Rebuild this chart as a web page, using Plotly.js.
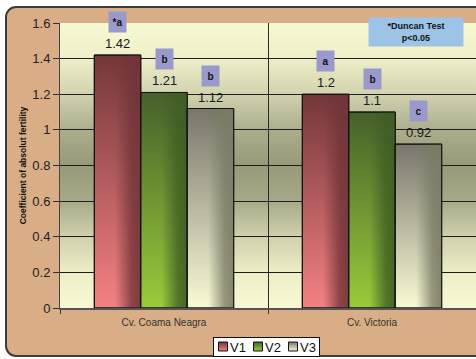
<!DOCTYPE html>
<html>
<head>
<meta charset="utf-8">
<script src="https://cdn.plot.ly/plotly-3.0.1.min.js"></script>
<style>
  html, body { margin: 0; padding: 0; background: #ffffff; width: 476px; height: 359px; overflow: hidden; }
  #frame { position: absolute; left: 5px; top: 6px; width: 490px; height: 351px; background: #D9AE86;
           border: 2px solid #3c3c3c; border-radius: 11px; box-sizing: border-box; }
  #plotbg { position: absolute; left: 60px; top: 23px; width: 416px; height: 285px;
            background: linear-gradient(to bottom, #F8F8D2 0%, #EFEFC9 12%, #D2D2AF 25%, #AAAC8C 38%, #979979 50%,
            #A6A887 62%, #D0D0AC 75%, #EEEEC8 88%, #F8F8D2 100%); }
  #chart { position: absolute; left: 0; top: 0; width: 476px; height: 359px; }
</style>
</head>
<body>
<div id="frame"></div>
<div id="plotbg"></div>
<div id="chart"></div>
<script>
// ---- data ----
const categories = ["Cv. Coama Neagra", "Cv. Victoria"];
const seriesNames = ["V1", "V2", "V3"];
const v1 = [1.42, 1.2];
const v2 = [1.21, 1.1];
const v3 = [1.12, 0.92];
const letters1 = ["*a", "a"];
const letters2 = ["b", "b"];
const letters3 = ["b", "c"];
const yTitle = "Coefficient of absolut fertility";
const noteText = "*Duncan Test<br>p&lt;0.05";

const seriesValues = [v1, v2, v3];
const seriesLetters = [letters1, letters2, letters3];
const baseColors = ["#B05A5E", "#6A9232", "#B8B89C"];
const gradTop = ["#733739", "#45602A", "#76776A"];
const gradBottom = ["#F48183", "#9ACB3B", "#FAFAD6"];
const shadeCol = ["rgba(112,52,56,0.9)", "rgba(62,92,36,0.9)", "rgba(122,122,100,0.9)"];

const FONT = "Arial, 'Liberation Sans', sans-serif";
const bargap = 0.33;
const barW = (1 - bargap) / 3;

const traces = seriesNames.map((n, i) => ({
  type: "bar",
  name: n,
  x: categories,
  y: seriesValues[i],
  marker: { color: baseColors[i], line: { color: "#111111", width: 1 } },
  hoverinfo: "skip"
}));

const annotations = [];
seriesValues.forEach((vals, i) => {
  vals.forEach((v, c) => {
    const xpos = c + (i - 1) * barW;
    annotations.push({
      x: xpos, y: v, xref: "x", yref: "y", text: String(v), showarrow: false,
      yanchor: "middle", yshift: 11.5, font: { family: FONT, size: 13, color: "#1a1a1a" }
    });
    annotations.push({
      x: xpos, y: v, xref: "x", yref: "y", text: seriesLetters[i][c], showarrow: false,
      yanchor: "middle", yshift: 33, bgcolor: "#9999CC", width: 15, height: 18, borderpad: 1,
      font: { family: FONT, size: 10, color: "#111111", weight: "bold" }
    });
  });
});
annotations.push({
  xref: "paper", yref: "paper", x: 0.8546, y: 0.9667, xanchor: "center", yanchor: "middle",
  text: noteText, showarrow: false, bgcolor: "#9DC3E6", width: 92, height: 26, borderpad: 1,
  font: { family: FONT, size: 9, color: "#111111", weight: "bold" }
});

const layout = {
  width: 476, height: 359,
  margin: { l: 60, r: 0, t: 23, b: 51, autoexpand: false },
  paper_bgcolor: "rgba(0,0,0,0)",
  plot_bgcolor: "rgba(0,0,0,0)",
  barmode: "group",
  bargap: bargap,
  bargroupgap: 0,
  font: { family: FONT, color: "#222222" },
  showlegend: true,
  legend: {
    orientation: "h", x: 0.5, xanchor: "center", y: -0.1, yanchor: "top",
    bgcolor: "#ffffff", bordercolor: "#111111", borderwidth: 1,
    font: { family: FONT, size: 13, color: "#111111" }
  },
  xaxis: {
    type: "category", tickson: "boundaries", ticks: "outside", ticklen: 4, tickcolor: "#333333",
    showgrid: true, gridcolor: "#2a2a2a", gridwidth: 1,
    showline: true, linecolor: "#555555", linewidth: 2,
    tickfont: { family: FONT, size: 10, color: "#333333" },
    ticklabelstandoff: 4,
    automargin: false,
    fixedrange: true
  },
  yaxis: {
    range: [0, 1.6], dtick: 0.2, tick0: 0, ticks: "outside", ticklen: 6, tickcolor: "#333333",
    showgrid: true, gridcolor: "#1e1e1e", gridwidth: 1, zeroline: false,
    showline: true, linecolor: "#444444", linewidth: 1,
    tickfont: { family: FONT, size: 13, color: "#222222" },
    title: { text: yTitle, standoff: 4, font: { family: FONT, size: 8.5, color: "#111111", weight: "bold" } },
    automargin: false,
    fixedrange: true
  },
  annotations: annotations
};

function addGradients(gd) {
  const svgNS = "http://www.w3.org/2000/svg";
  const svg = gd.querySelector("svg.main-svg");
  const defs = document.createElementNS(svgNS, "defs");
  svg.insertBefore(defs, svg.firstChild);
  seriesNames.forEach((n, i) => {
    const gv = document.createElementNS(svgNS, "linearGradient");
    gv.setAttribute("id", "gv" + i);
    gv.setAttribute("x1", "0"); gv.setAttribute("y1", "0");
    gv.setAttribute("x2", "0"); gv.setAttribute("y2", "1");
    [[0, gradTop[i]], [1, gradBottom[i]]].forEach(([o, c]) => {
      const s = document.createElementNS(svgNS, "stop");
      s.setAttribute("offset", o); s.setAttribute("stop-color", c);
      gv.appendChild(s);
    });
    defs.appendChild(gv);
    const gh = document.createElementNS(svgNS, "linearGradient");
    gh.setAttribute("id", "gh" + i);
    gh.setAttribute("x1", "0"); gh.setAttribute("y1", "0");
    gh.setAttribute("x2", "1"); gh.setAttribute("y2", "0");
    [[0, 0], [0.45, 0], [0.8, 0.85], [1, 1]].forEach(([o, a]) => {
      const s = document.createElementNS(svgNS, "stop");
      s.setAttribute("offset", o); s.setAttribute("stop-color", shadeCol[i]);
      s.setAttribute("stop-opacity", a);
      gh.appendChild(s);
    });
    defs.appendChild(gh);
  });
  const barTraces = gd.querySelectorAll(".barlayer .trace");
  barTraces.forEach((tr, i) => {
    tr.querySelectorAll(".point path").forEach(p => {
      p.style.fill = "url(#gv" + i + ")";
      p.style.fillOpacity = 1;
      const ov = p.cloneNode(false);
      ov.style.fill = "url(#gh" + i + ")";
      ov.style.stroke = "none";
      p.parentNode.insertBefore(ov, p.nextSibling);
      const ol = p.cloneNode(false);
      ol.style.fill = "none";
      p.parentNode.insertBefore(ol, ov.nextSibling);
    });
  });
  // compact legend
  const legend = gd.querySelector(".legend");
  if (legend) {
    const items = legend.querySelectorAll(".traces");
    const itemW = 35;
    items.forEach((it, k) => {
      it.setAttribute("transform", "translate(" + (3 + k * itemW) + ",9.5)");
      const pts = it.querySelectorAll(".legendpoints path");
      pts.forEach(p => {
        p.setAttribute("d", "M4.5,4.5H-4.5V-4.5H4.5Z");
        p.setAttribute("transform", "translate(7,0)");
        p.style.fill = "url(#gv" + k + ")";
      });
      const t = it.querySelector("text.legendtext");
      if (t) t.setAttribute("x", "14");
    });
    const bg = legend.querySelector("rect.bg");
    if (bg) { bg.setAttribute("width", 106); bg.setAttribute("height", 19); }
    legend.setAttribute("transform", "translate(213,337)");
  }
}

Plotly.newPlot("chart", traces, layout, { staticPlot: true, displayModeBar: false }).then(addGradients);
</script>
</body>
</html>
